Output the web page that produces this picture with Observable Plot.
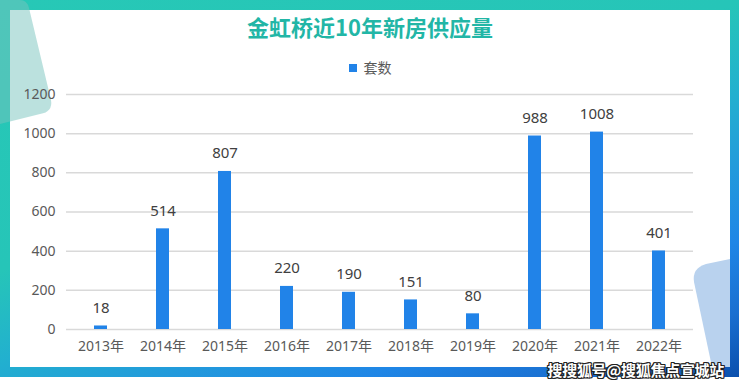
<!DOCTYPE html>
<html>
<head>
<meta charset="utf-8">
<script src="https://cdn.jsdelivr.net/npm/d3@7"></script>
<script src="https://cdn.jsdelivr.net/npm/@observablehq/plot@0.6"></script>
<style>
  html, body { margin: 0; padding: 0; background: #fff; }
  #wrap { position: relative; width: 740px; height: 388px; overflow: hidden; font-family: "Noto Sans", "Noto Sans CJK SC", sans-serif; }
  #frame { position: absolute; left: 0; top: 0; width: 739px; height: 377px;
    background: linear-gradient(160deg, #27c8b6 0%, #26c5b8 42%, #22b0cf 56%, #2299dc 68%, #1f86e6 79%, #1a6fd0 90%, #0b50ad 100%); }
  #panel { position: absolute; left: 10px; top: 10px; width: 720px; height: 357px; background: #fff; }
  #deco { position: absolute; left: 0; top: 0; }
  #title { position: absolute; left: 0; width: 740px; top: 9px; text-align: center; font-size: 22px; font-weight: bold; color: #22b6a6; line-height: 34px; font-family: "Noto Sans CJK SC", sans-serif; }
  #legend { position: absolute; left: 0; width: 740px; top: 56px; text-align: center; font-size: 14px; color: #595959; line-height: 22px; font-family: "Noto Sans CJK SC", sans-serif; }
  #legend span.sw { display: inline-block; width: 8px; height: 8px; background: #2183e8; margin-right: 7px; vertical-align: 1px; }
  #chart { position: absolute; left: 0; top: 0; }
  #wm { position: absolute; right: 16px; top: 360px; font-size: 15px; font-weight: bold; color: #fff; line-height: 20px; letter-spacing: -0.3px; font-family: "Noto Sans CJK SC", sans-serif;
    text-shadow: 1px 1px 0 #222, -1px -1px 0 #222, 1px -1px 0 #222, -1px 1px 0 #222, 0 1px 0 #222, 1px 0 0 #222, 0 -1px 0 #222, -1px 0 0 #222; }
</style>
</head>
<body>
<div id="wrap">
  <div id="frame"></div>
  <div id="panel"></div>
  <svg id="deco" width="740" height="388">
    <path d="M0,0 L20,0 Q27,0 29,8 L51,100 Q53,112 40,114 L0,124 Z" fill="rgba(120,196,190,0.5)"/>
    <path d="M730,259 L706,264 Q692,268 694,282 L712,367 L730,367 Z" fill="#b9d2ee"/>
  </svg>
  <div id="title">金虹桥近10年新房供应量</div>
  <div id="legend"><span class="sw"></span>套数</div>
  <div id="chart"></div>
  <div id="wm">搜搜狐号@搜狐焦点宣城站</div>
</div>
<script>
const years = ["2013年","2014年","2015年","2016年","2017年","2018年","2019年","2020年","2021年","2022年"];
const supply = [18, 514, 807, 220, 190, 151, 80, 988, 1008, 401];
const yTicks = [0, 200, 400, 600, 800, 1000, 1200];

const data = years.map((y, i) => ({year: y, value: supply[i]}));

const chart = Plot.plot({
  width: 740,
  height: 388,
  marginTop: 94,
  marginBottom: 59,
  marginLeft: 66,
  marginRight: 47,
  style: { background: "transparent", fontFamily: "'Noto Sans', 'Noto Sans CJK SC', sans-serif" },
  x: { domain: years, paddingInner: 0.79, paddingOuter: 0.395, label: null },
  y: { domain: [0, 1200], label: null },
  marks: [
    Plot.ruleY(yTicks, { stroke: "#d9d9d9", strokeWidth: 1.5 }),
    Plot.barY(data, { x: "year", y: "value", fill: "#2183e8" }),
    Plot.text(data, { x: "year", y: "value", text: d => String(d.value), dy: -18, fontSize: 15, fill: "#404040" }),
    Plot.axisY(yTicks, { tickSize: 0, tickPadding: 11, fontSize: 14, fill: "#595959", label: null, tickFormat: d => String(d) }),
    Plot.axisX({ tickSize: 0, tickPadding: 12, fontSize: 14, fill: "#595959", label: null })
  ]
});
document.getElementById("chart").appendChild(chart);
</script>
</body>
</html>
